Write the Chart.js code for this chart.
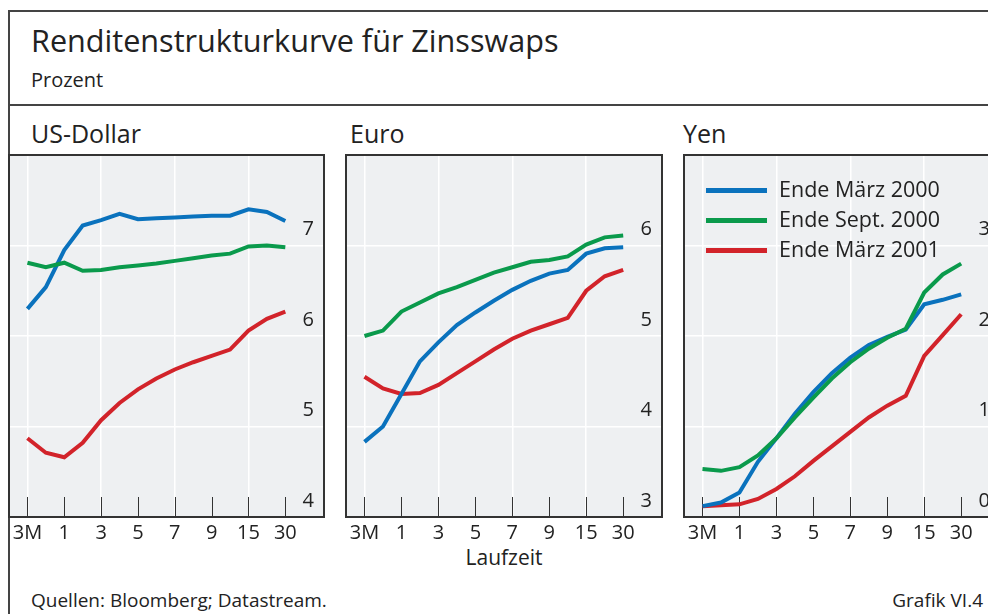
<!DOCTYPE html>
<html><head><meta charset="utf-8">
<script src="https://cdn.jsdelivr.net/npm/chart.js@4.4.0/dist/chart.umd.min.js"></script>
<style>
html,body{margin:0;padding:0;width:988px;height:614px;overflow:hidden;background:#fff;}
body{position:relative;font-family:'Open Sans',sans-serif;color:#222;}
.t{position:absolute;white-space:nowrap;line-height:1;}
.ln{position:absolute;background:#444;}
.sw{position:absolute;height:5px;}
canvas{position:absolute;}
</style></head><body>
<div class="ln" style="left:8px;top:10px;width:2px;height:620px"></div>
<div class="ln" style="left:8px;top:10px;width:1000px;height:2px"></div>
<div class="ln" style="left:8px;top:104px;width:1000px;height:2px"></div>
<div class="t" style="left:31px;top:25px;font-size:30.6px">Renditenstrukturkurve für Zinsswaps</div>
<div class="t" style="left:31px;top:70px;font-size:20px">Prozent</div>
<div class="t" style="left:31px;top:121px;font-size:25px">US-Dollar</div>
<div class="t" style="left:350px;top:121px;font-size:25px">Euro</div>
<div class="t" style="left:683px;top:121px;font-size:25px">Yen</div>
<div class="t" style="left:404px;top:547px;width:200px;text-align:center;font-size:21px">Laufzeit</div>
<div class="t" style="left:31px;top:591px;font-size:19px">Quellen: Bloomberg; Datastream.</div>
<div class="t" style="left:783px;top:591px;width:200px;text-align:right;font-size:19px">Grafik VI.4</div>
<canvas id="cUsd" width="340" height="420" style="left:0px;top:140px"></canvas>
<canvas id="cEur" width="350" height="420" style="left:330px;top:140px"></canvas>
<canvas id="cJpy" width="350" height="420" style="left:668px;top:140px"></canvas>
<div id="legend"></div>
<script>
// ---- data ----
const maturities = ['3M','6M','1','2','3','4','5','6','7','8','9','10','15','20','30'];
const seriesNames = ['Ende März 2000','Ende Sept. 2000','Ende März 2001'];
const seriesColors = ['#0a72bd','#0a9a4c','#d2232a'];

const usdMar2000 = [6.30,6.54,6.95,7.22,7.28,7.35,7.29,7.30,7.31,7.32,7.33,7.33,7.40,7.37,7.27];
const usdSep2000 = [6.81,6.76,6.81,6.72,6.73,6.76,6.78,6.80,6.83,6.86,6.89,6.91,6.99,7.00,6.98];
const usdMar2001 = [4.87,4.71,4.66,4.82,5.07,5.26,5.41,5.53,5.63,5.71,5.78,5.85,6.06,6.19,6.27];

const eurMar2000 = [3.83,4.00,4.36,4.72,4.93,5.12,5.26,5.39,5.51,5.61,5.69,5.73,5.91,5.97,5.98];
const eurSep2000 = [5.00,5.06,5.27,5.37,5.47,5.54,5.62,5.70,5.76,5.82,5.84,5.88,6.01,6.09,6.11];
const eurMar2001 = [4.55,4.42,4.36,4.37,4.46,4.59,4.72,4.85,4.97,5.06,5.13,5.20,5.50,5.66,5.73];

const jpyMar2000 = [0.12,0.16,0.27,0.61,0.87,1.14,1.38,1.59,1.76,1.90,1.99,2.07,2.35,2.40,2.46];
const jpySep2000 = [0.53,0.51,0.55,0.68,0.87,1.10,1.32,1.53,1.71,1.86,1.98,2.08,2.48,2.68,2.80];
const jpyMar2001 = [0.12,0.13,0.14,0.20,0.31,0.45,0.62,0.78,0.94,1.10,1.23,1.34,1.78,2.01,2.24];

const xTickIdx = [0,2,4,6,8,10,12,14];
const xGridIdx = [0,4,8,12];
const usdTicks = [4,5,6,7];
const eurTicks = [3,4,5,6];
const jpyTicks = [0,1,2,3];

// ---- legend (HTML) ----
const leg = document.getElementById('legend');
seriesNames.forEach((n,i)=>{
  const y = 190 + i*30;
  const sw = document.createElement('div');
  sw.className='sw'; sw.style.left='706px'; sw.style.top=(y-2.5)+'px'; sw.style.width='61px'; sw.style.background=seriesColors[i];
  leg.appendChild(sw);
  const t = document.createElement('div');
  t.className='t'; t.style.left='779px'; t.style.top=(y-11.8)+'px'; t.style.fontSize='21.5px'; t.textContent=n;
  leg.appendChild(t);
});

const framePlugin = {
  id:'frame',
  beforeDraw(chart){
    const {ctx, chartArea:a} = chart;
    ctx.save(); ctx.fillStyle='#eef0f2';
    ctx.fillRect(a.left,a.top,a.right-a.left,a.bottom-a.top); ctx.restore();
  },
  beforeDatasetsDraw(chart){
    const {ctx, chartArea:a} = chart; const x = chart.scales.x;
    ctx.save(); ctx.strokeStyle='#333'; ctx.lineWidth=1;
    xTickIdx.forEach(i=>{
      const px = Math.round(x.getPixelForValue(i))+0.5;
      ctx.beginPath(); ctx.moveTo(px,a.bottom); ctx.lineTo(px,a.bottom-20); ctx.stroke();
    });
    ctx.restore();
  },
  afterDraw(chart){
    const {ctx, chartArea:a} = chart;
    ctx.save(); ctx.strokeStyle='#333'; ctx.lineWidth=2;
    ctx.strokeRect(a.left,a.top,a.right-a.left,a.bottom-a.top); ctx.restore();
  }
};

const tickFont = {family:'Open Sans', size:20};

function makeChart(id, series, yMin, yMax, yTicks, pad){
  const datasets = series.map((vals,i)=>({
    label: seriesNames[i],
    data: vals.map((v,k)=>({x:k, y:v})),
    borderColor: seriesColors[i],
    backgroundColor: seriesColors[i],
    borderWidth: 4,
    pointRadius: 0,
    tension: 0,
    fill: false,
    order: [1,0,2][i]
  }));
  return new Chart(document.getElementById(id), {
    type:'line',
    data:{datasets},
    plugins:[framePlugin],
    options:{
      responsive:false, animation:false, devicePixelRatio:1,
      layout:{padding:pad},
      plugins:{legend:{display:false}, tooltip:{enabled:false}},
      scales:{
        x:{
          type:'linear', min:-1, max:16.1, position:'bottom',
          afterBuildTicks: s => { s.ticks = xTickIdx.map(v=>({value:v})); },
          afterFit: s => { s.height = 40; },
          grid:{drawTicks:false, lineWidth:1.5,
                color: c => (c.tick && xGridIdx.includes(c.tick.value)) ? '#ffffff' : 'rgba(0,0,0,0)'},
          border:{display:false},
          ticks:{autoSkip:false, maxRotation:0, minRotation:0, padding:4, color:'#222', font:tickFont,
                 callback: v => maturities[v]}
        },
        y:{
          type:'linear', position:'right', min:yMin, max:yMax,
          afterBuildTicks: s => { s.ticks = yTicks.map(v=>({value:v})); },
          afterFit: s => { s.width = 0; },
          grid:{drawTicks:false, lineWidth:1.5, color:'#ffffff'},
          border:{display:false},
          ticks:{mirror:true, padding:-10, labelOffset:-16, color:'#222', font:tickFont}
        }
      }
    }
  });
}

makeChart('cUsd', [usdMar2000, usdSep2000, usdMar2001], 4, 8, usdTicks, {left:9, top:15, right:16, bottom:3});
makeChart('cEur', [eurMar2000, eurSep2000, eurMar2001], 3, 7, eurTicks, {left:16, top:15, right:18, bottom:3});
makeChart('cJpy', [jpyMar2000, jpySep2000, jpyMar2001], 0, 4, jpyTicks, {left:16, top:15, right:18, bottom:3});
</script>
</body></html>
